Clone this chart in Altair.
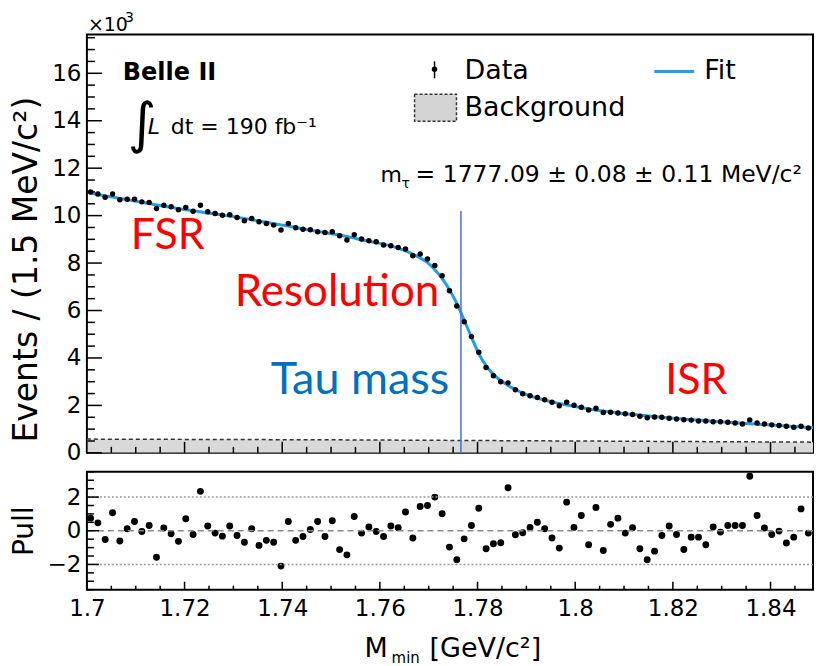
import altair as alt
import pandas as pd

FONT = "DejaVu Sans"
ANNOT = "Lato"

# ---------------- data ----------------
x_lo, x_hi = 1.70, 1.8487
bin_width = 0.0015
bin_centers = [round(x_lo + bin_width * (i + 0.5), 5) for i in range(100)]

data_y = [11.00, 10.91, 10.77, 10.91, 10.67, 10.69, 10.69, 10.58, 10.55, 10.30,
          10.44, 10.37, 10.25, 10.34, 10.18, 10.44, 10.16, 10.09, 10.02, 10.04,
          9.92, 9.78, 9.88, 9.74, 9.67, 9.60, 9.39, 9.67, 9.49, 9.43,
          9.40, 9.32, 9.29, 9.32, 9.15, 8.97, 9.19, 9.01, 8.94, 8.90,
          8.76, 8.73, 8.66, 8.59, 8.31, 8.38, 8.17, 7.90, 7.47, 6.83,
          6.19, 5.53, 4.90, 4.24, 3.60, 3.25, 3.00, 2.95, 2.66, 2.49,
          2.41, 2.33, 2.24, 2.13, 1.99, 2.13, 2.01, 1.92, 1.81, 1.88,
          1.70, 1.71, 1.68, 1.65, 1.62, 1.54, 1.48, 1.51, 1.50, 1.46,
          1.43, 1.40, 1.38, 1.34, 1.34, 1.31, 1.31, 1.29, 1.26, 1.22,
          1.39, 1.26, 1.22, 1.18, 1.15, 1.12, 1.08, 1.12, 1.05, 0.99]

fit_y = [10.95, 10.89, 10.83, 10.78, 10.72, 10.67, 10.62, 10.56, 10.51, 10.45,
         10.40, 10.35, 10.30, 10.25, 10.21, 10.16, 10.11, 10.07, 10.02, 9.98,
         9.93, 9.88, 9.83, 9.77, 9.72, 9.66, 9.61, 9.56, 9.50, 9.44,
         9.39, 9.33, 9.28, 9.23, 9.18, 9.12, 9.05, 8.98, 8.92, 8.86,
         8.80, 8.72, 8.63, 8.51, 8.37, 8.22, 8.02, 7.72, 7.35, 6.88,
         6.30, 5.60, 4.88, 4.18, 3.68, 3.31, 3.05, 2.84, 2.67, 2.52,
         2.40, 2.30, 2.22, 2.15, 2.08, 2.02, 1.96, 1.90, 1.85, 1.80,
         1.76, 1.72, 1.68, 1.65, 1.62, 1.59, 1.56, 1.53, 1.50, 1.47,
         1.45, 1.42, 1.40, 1.38, 1.36, 1.33, 1.31, 1.29, 1.27, 1.25,
         1.23, 1.21, 1.19, 1.17, 1.15, 1.13, 1.11, 1.09, 1.07, 1.05]

pull_y = [0.75, 0.47, -0.52, 1.07, -0.61, 0.12, 0.55, -0.04, 0.31, -1.57,
          0.16, -0.18, -0.63, 0.71, -0.22, 2.34, 0.28, -0.14, -0.32, 0.28,
          -0.28, -0.68, 0.12, -0.87, -0.57, -0.68, -2.10, 0.55, -0.57, -0.34,
          0.08, 0.55, -0.34, 0.59, -1.12, -1.43, 0.85, -0.14, 0.22, -0.04,
          -0.34, 0.28, 0.18, 1.11, -0.43, 1.44, 1.50, 2.00, 1.01, -0.97,
          -1.72, -0.48, 0.31, 1.34, -1.07, -0.77, -0.71, 2.55, -0.24, -0.12,
          0.20, 0.51, 0.12, -0.43, -1.03, 1.70, 0.20, 0.91, -0.83, 1.38,
          -1.17, 0.38, 0.75, -0.14, 0.18, -1.07, -1.72, -1.21, -0.28, 0.28,
          -0.22, -1.11, -0.38, -0.38, -0.83, 0.22, -0.08, 0.31, 0.31, 0.31,
          3.24, 0.91, 0.16, -0.22, -0.02, -0.73, -0.38, 1.30, -0.14, -1.57]

bkg_x = [1.70, 1.75, 1.80, 1.85]
bkg_y = [0.58, 0.55, 0.50, 0.45]

tau_x = 1.7766
tau_top = 10.19

pull_ref_y = [-2, 2]
pull_zero_y = [0]

# axis tick values
x_major = [1.70, 1.72, 1.74, 1.76, 1.78, 1.80, 1.82, 1.84]
x_minor = [round(1.70 + 0.005 * k, 3) for k in range(30) if k % 4]
main_y_major = [0, 2, 4, 6, 8, 10, 12, 14, 16]
main_y_minor = [0.5 * k for k in range(36) if k % 4]
pull_y_major = [-2, 0, 2]
pull_y_minor = [-3.5 + 0.5 * k for k in range(15) if (k - 3) % 4]

# ---------------- layout ----------------
W, HM, HP = 727, 419, 118
SX = alt.Scale(domain=[x_lo, x_hi], nice=False, zero=False)
SYM = alt.Scale(domain=[0, 17.64], nice=False, zero=False)
SYP = alt.Scale(domain=[-3.5, 3.5], nice=False, zero=False)

AX_MAIN_X = alt.Axis(labels=False, ticks=False, domain=False, grid=False, title=None)
AX_MAIN_Y = alt.Axis(values=main_y_major, labelFontSize=23, labelPadding=6,
                     ticks=False, domain=False, grid=False,
                     title="Events / (1.5 MeV/c²)", titleFontSize=33,
                     titleFontWeight="normal", titleX=-50, titleY=235,
                     titleAlign="center", titleAngle=270,
                     titleBaseline="alphabetic")
AX_PULL_X = alt.Axis(values=x_major, format="~g", labelFontSize=23,
                     labelPadding=8, labelFlush=False, ticks=False,
                     domain=False, grid=False, title=None)
AX_PULL_Y = alt.Axis(values=pull_y_major, labelFontSize=23, labelPadding=6,
                     ticks=False, domain=False, grid=False, title="Pull",
                     titleFontSize=28, titleFontWeight="normal",
                     titleX=-54, titleY=59, titleAlign="center",
                     titleAngle=270, titleBaseline="alphabetic")

PANELS = {
    "main": (SYM, AX_MAIN_X, AX_MAIN_Y),
    "pull": (SYP, AX_PULL_X, AX_PULL_Y),
}


def X(field, panel):
    return alt.X(field, scale=SX, axis=PANELS[panel][1])


def Y(field, panel):
    return alt.Y(field, scale=PANELS[panel][0], axis=PANELS[panel][2])


def text_layer(x, y, s, size, panel, color="#000", font=FONT, weight="normal",
               style="normal", align="left"):
    df = pd.DataFrame({"x": [x], "y": [y], "t": [s]})
    return alt.Chart(df).mark_text(
        font=font, fontSize=size, fontWeight=weight, fontStyle=style,
        color=color, align=align, baseline="alphabetic"
    ).encode(x=X("x:Q", panel), y=Y("y:Q", panel), text="t:N")


def xticks(vals, length, H, panel):
    return alt.Chart(pd.DataFrame({"v": vals})).mark_rule(
        color="#000", strokeWidth=1.5
    ).encode(x=X("v:Q", panel), y=alt.value(H), y2=alt.value(H - length))


def yticks(vals, length, panel):
    return alt.Chart(pd.DataFrame({"v": vals})).mark_rule(
        color="#000", strokeWidth=1.5
    ).encode(y=Y("v:Q", panel), x=alt.value(0), x2=alt.value(length))


# ---------------- main panel ----------------
df_main = pd.DataFrame({"x": bin_centers, "data": data_y, "fit": fit_y})
df_bkg = pd.DataFrame({"x": bkg_x, "y": bkg_y})

bkg_area = alt.Chart(df_bkg).mark_area(color="#d9d9d9", clip=True).encode(
    x=X("x:Q", "main"), y=Y("y:Q", "main"))
bkg_line = alt.Chart(df_bkg).mark_line(
    color="#333", strokeDash=[4, 3], strokeWidth=1.5, clip=True
).encode(x=X("x:Q", "main"), y=Y("y:Q", "main"))

fit_line = alt.Chart(df_main).mark_line(
    color="#1fa0e6", strokeWidth=3, interpolate="monotone", clip=True
).encode(x=X("x:Q", "main"), y=Y("fit:Q", "main"))

data_pts = alt.Chart(df_main).mark_circle(
    color="#000", size=30, opacity=1, clip=True
).encode(x=X("x:Q", "main"), y=Y("data:Q", "main"))

tau_rule = alt.Chart(pd.DataFrame({"x": [tau_x], "y": [tau_top], "y2": [0]})).mark_rule(
    color="#4472c4", strokeWidth=1.5
).encode(x=X("x:Q", "main"), y=Y("y:Q", "main"), y2="y2:Q")

# legend pieces
leg_pt = alt.Chart(pd.DataFrame({"x": [1.77119], "y": [16.167]})).mark_circle(
    color="#000", size=30, opacity=1
).encode(x=X("x:Q", "main"), y=Y("y:Q", "main"))
leg_err = alt.Chart(pd.DataFrame({"x": [1.77119], "y": [16.50], "y2": [15.79]})).mark_rule(
    color="#000", strokeWidth=1.5
).encode(x=X("x:Q", "main"), y=Y("y:Q", "main"), y2="y2:Q")
leg_fit = alt.Chart(pd.DataFrame({"x": [1.81620], "x2": [1.82438], "y": [16.08]})).mark_rule(
    color="#1fa0e6", strokeWidth=3
).encode(x=X("x:Q", "main"), x2="x2:Q", y=Y("y:Q", "main"))
leg_bkg = alt.Chart(pd.DataFrame({"x": [1.76710], "x2": [1.77569],
                                  "y": [15.114], "y2": [13.977]})).mark_rect(
    fill="#d4d4d4", stroke="#333", strokeDash=[3, 2], strokeWidth=1.5
).encode(x=X("x:Q", "main"), x2="x2:Q", y=Y("y:Q", "main"), y2="y2:Q")

main_texts = [
    text_layer(1.7002, 17.766, "×10", 19, "main"),
    text_layer(1.70781, 18.145, "3", 14, "main"),
    text_layer(1.70736, 15.703, "Belle II", 24, "main", weight="bold"),
    text_layer(1.70839, 13.12, "∫", 55, "main"),
    text_layer(1.71248, 13.43, "L", 22, "main", style="italic"),
    text_layer(1.71718, 13.43, "dt = 190 fb⁻¹", 22, "main"),
    text_layer(1.77733, 15.745, "Data", 27, "main"),
    text_layer(1.82643, 15.745, "Fit", 27, "main"),
    text_layer(1.77733, 14.188, "Background", 27, "main"),
    text_layer(1.76015, 11.409, "m", 22, "main"),
    text_layer(1.76444, 11.157, "τ", 14, "main"),
    text_layer(1.76731, 11.409, "= 1777.09 ± 0.08 ± 0.11 MeV/c²", 23.5, "main"),
    text_layer(1.70900, 8.589, "FSR", 43, "main", color="#ff0000", font=ANNOT),
    text_layer(1.73028, 6.189, "Resolution", 44, "main", color="#ff0000", font=ANNOT),
    text_layer(1.73764, 2.484, "Tau mass", 45, "main", color="#0070c0", font=ANNOT),
    text_layer(1.81845, 2.484, "ISR", 43, "main", color="#ff0000", font=ANNOT),
]

main = alt.layer(
    bkg_area, bkg_line, fit_line, data_pts, tau_rule,
    xticks(x_major, 11, HM, "main"), xticks(x_minor, 6, HM, "main"),
    yticks(main_y_major, 15, "main"), yticks(main_y_minor, 8, "main"),
    leg_pt, leg_err, leg_fit, leg_bkg, *main_texts,
).properties(width=W, height=HM)

# ---------------- pull panel ----------------
df_pull = pd.DataFrame({"x": bin_centers, "pull": pull_y})

ref_lines = alt.Chart(pd.DataFrame({"y": pull_ref_y})).mark_rule(
    color="#9a9a9a", strokeDash=[2, 2], strokeWidth=1.5
).encode(y=Y("y:Q", "pull"))
zero_line = alt.Chart(pd.DataFrame({"y": pull_zero_y})).mark_rule(
    color="#8a8a8a", strokeDash=[6, 4], strokeWidth=1.5
).encode(y=Y("y:Q", "pull"))

pull_pts = alt.Chart(df_pull).mark_circle(
    color="#000", size=48, opacity=1, clip=True
).encode(x=X("x:Q", "pull"), y=Y("pull:Q", "pull"))

pull_texts = [
    text_layer(1.75687, -7.475, "M", 27, "pull"),
    text_layer(1.76240, -7.831, "min", 15, "pull"),
    text_layer(1.77017, -7.475, "[GeV/c²]", 27, "pull"),
]

pull = alt.layer(
    pull_pts, ref_lines, zero_line,
    xticks(x_major, 8, HP, "pull"), xticks(x_minor, 4, HP, "pull"),
    yticks(pull_y_major, 12, "pull"), yticks(pull_y_minor, 7, "pull"),
    *pull_texts,
).properties(width=W, height=HP)

chart = alt.vconcat(main, pull, spacing=4).properties(
    padding={"left": 1, "top": 2, "right": 0, "bottom": 0}
).configure_view(
    stroke="#000", strokeWidth=2
).configure_axis(
    labelFont=FONT, labelColor="#000", titleFont=FONT, titleColor="#000"
)

chart.save("out.html", embed_options={"renderer": "svg", "actions": False})
